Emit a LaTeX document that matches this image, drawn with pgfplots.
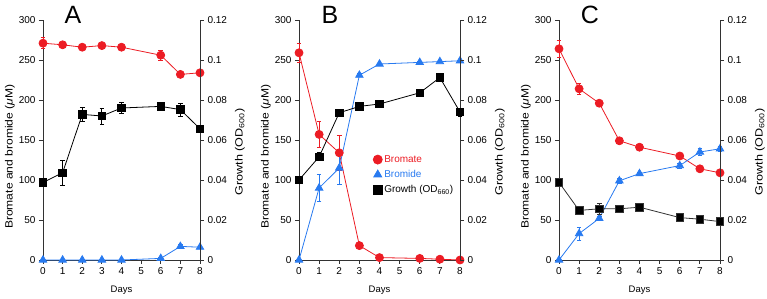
\documentclass[border=0pt]{standalone}
\usepackage{fontspec}
\setmainfont{Liberation Sans}
\usepackage{pgfplots}
\pgfplotsset{compat=1.18}
\definecolor{bred}{RGB}{236,28,36}
\definecolor{bblue}{RGB}{40,122,240}
\definecolor{axgray}{RGB}{50,50,50}

\pgfplotsset{
  base/.style={scale only axis, height=240pt, xmin=0, xmax=8, clip=false,
    tick align=outside, major tick length=4pt,
    tick style={line width=0.8pt, axgray},
    axis line style={line width=0.8pt, axgray},
    ticklabel style={font=\fontsize{10}{12}\selectfont},
    label style={font=\fontsize{9.5}{11}\selectfont},
    /pgf/number format/assume math mode=true,
    every axis plot/.append style={line width=0.8pt},
    error bars/error bar style={line width=0.8pt},
    error bars/error mark options={rotate=90, mark size=2.3pt, line width=0.8pt},
  },
  leftax/.style={base, ymin=0, ymax=300,
    axis x line*=bottom, axis y line*=left,
    xtick={0,1,2,3,4,5,6,7,8}, ytick={0,50,100,150,200,250,300},
    xlabel={Days}, ylabel={Bromate and bromide (\textit{μ}M)},
    xlabel style={at={(axis description cs:0.5,0)}, yshift=-30pt, anchor=center},
    ylabel style={at={([xshift=-33pt]axis description cs:0,0.43)}, anchor=center,
      font=\fontsize{10.5}{12}\selectfont, xscale=1.15},
  },
  rightax/.style={base, ymin=0, ymax=0.12,
    axis y line*=right, axis x line=none,
    ytick={0,0.02,0.04,0.06,0.08,0.1,0.12},
    yticklabels={0,0.02,0.04,0.06,0.08,0.1,0.12},
    ylabel={Growth (OD\textsubscript{600})},
    ylabel style={at={([xshift=40pt]axis description cs:1,0.45)}, anchor=center,
      font=\fontsize{10.5}{12}\selectfont, xscale=1.2},
  },
  brm/.style={bred, mark=*, mark size=4pt, mark options={solid, fill=bred}},
  bri/.style={bblue, mark=triangle*, mark size=4.3pt, mark options={solid, fill=bblue}},
  gro/.style={black, mark=square*, mark size=3.8pt, mark options={solid, fill=black}},
  errs/.style={error bars/y dir=both, error bars/y explicit},
}

\begin{document}
\begin{tikzpicture}
\path[use as bounding box] (0,0) rectangle (767pt,299pt);

% ---------------- Panel A ----------------
\begin{axis}[leftax, width=157pt, at={(43pt,39pt)}, anchor=south west]
\addplot+[brm, errs] coordinates {(0,271) +- (0,7) (1,269) +- (0,2) (2,266) +- (0,2) (3,268) +- (0,2) (4,266) +- (0,3) (6,256) +- (0,6) (7,232) +- (0,2) (8,234) +- (0,2)};
\addplot+[bri, errs] coordinates {(0,0) +- (0,0) (1,0) +- (0,0) (2,0) +- (0,0) (3,0) +- (0,0) (4,0) +- (0,0) (6,2) +- (0,1) (7,17) +- (0,2) (8,16) +- (0,2)};
\node[font=\fontsize{25}{25}\selectfont] at (rel axis cs:0,1) [xshift=30pt, yshift=5pt] {A};
\end{axis}
\begin{axis}[rightax, width=157pt, at={(43pt,39pt)}, anchor=south west]
\addplot+[gro, errs] coordinates {(0,0.0388) +- (0,0.0006) (1,0.0436) +- (0,0.0064) (2,0.0728) +- (0,0.0036) (3,0.0720) +- (0,0.004) (4,0.0760) +- (0,0.0028) (6,0.0768) +- (0,0.0012) (7,0.0752) +- (0,0.0032) (8,0.0656) +- (0,0.0008)};
\end{axis}

% ---------------- Panel B ----------------
\begin{axis}[leftax, width=161pt, at={(299pt,39pt)}, anchor=south west]
\addplot+[brm, errs] coordinates {(0,259) +- (0,12) (1,157) +- (0,16) (2,134) +- (0,22) (3,18) +- (0,2) (4,3) +- (0,1) (6,2) +- (0,1) (7,1) +- (0,1) (8,0) +- (0,0)};
\addplot+[bri, errs] coordinates {(0,0) +- (0,0) (1,90) +- (0,17) (2,115) +- (0,20) (3,231) +- (0,2) (4,245) +- (0,1) (6,247) +- (0,1) (7,248) +- (0,1) (8,249) +- (0,1)};
\node[font=\fontsize{25}{25}\selectfont] at (rel axis cs:0,1) [xshift=31pt, yshift=5pt] {B};
\end{axis}
\begin{axis}[rightax, width=161pt, at={(299pt,39pt)}, anchor=south west,
  legend style={draw=none, fill=none, at={(rel axis cs:0.46,0.445)}, anchor=north west,
    font=\fontsize{10}{12}\selectfont, row sep=2.5pt, inner sep=0pt},
  legend cell align=left,
  legend image code/.code={\draw[mark repeat=2,mark phase=2,#1] plot coordinates {(0cm,0cm)(0.1cm,0cm)(0.2cm,0cm)};}]
\addlegendimage{brm, only marks, mark size=4.5pt}
\addlegendentry{\textcolor{bred}{Bromate}}
\addlegendimage{bri, only marks, mark size=4.6pt}
\addlegendentry{\textcolor{bblue}{Bromide}}
\addlegendimage{gro, only marks, mark size=4.2pt}
\addlegendentry{Growth (OD\textsubscript{660})}
\addplot+[gro, forget plot, errs] coordinates {(0,0.040) +- (0,0.0004) (1,0.0516) +- (0,0.002) (2,0.0736) +- (0,0.0006) (3,0.0768) +- (0,0.0006) (4,0.078) +- (0,0.0006) (6,0.0836) +- (0,0.0008) (7,0.0912) +- (0,0.0006) (8,0.074) +- (0,0.002)};
\end{axis}

% ---------------- Panel C ----------------
\begin{axis}[leftax, width=161pt, at={(559pt,39pt)}, anchor=south west]
\addplot+[brm, errs] coordinates {(0,264) +- (0,11) (1,214) +- (0,7) (2,196) +- (0,4) (3,149) +- (0,2) (4,141) +- (0,2) (6,130) +- (0,3) (7,114) +- (0,2) (8,109) +- (0,2)};
\addplot+[bri, errs] coordinates {(0,0) +- (0,0) (1,33) +- (0,8) (2,52) +- (0,3) (3,99) +- (0,3) (4,108) +- (0,2) (6,118) +- (0,3) (7,135) +- (0,4) (8,139) +- (0,3)};
\node[font=\fontsize{25}{25}\selectfont] at (rel axis cs:0,1) [xshift=31pt, yshift=5pt] {C};
\end{axis}
\begin{axis}[rightax, width=161pt, at={(559pt,39pt)}, anchor=south west]
\addplot+[gro, color=black!80, errs] coordinates {(0,0.0388) +- (0,0.001) (1,0.0248) +- (0,0.0008) (2,0.0256) +- (0,0.0028) (3,0.0256) +- (0,0.0006) (4,0.0264) +- (0,0.0006) (6,0.0212) +- (0,0.0006) (7,0.0204) +- (0,0.0006) (8,0.0192) +- (0,0.0006)};
\end{axis}
\end{tikzpicture}
\end{document}
